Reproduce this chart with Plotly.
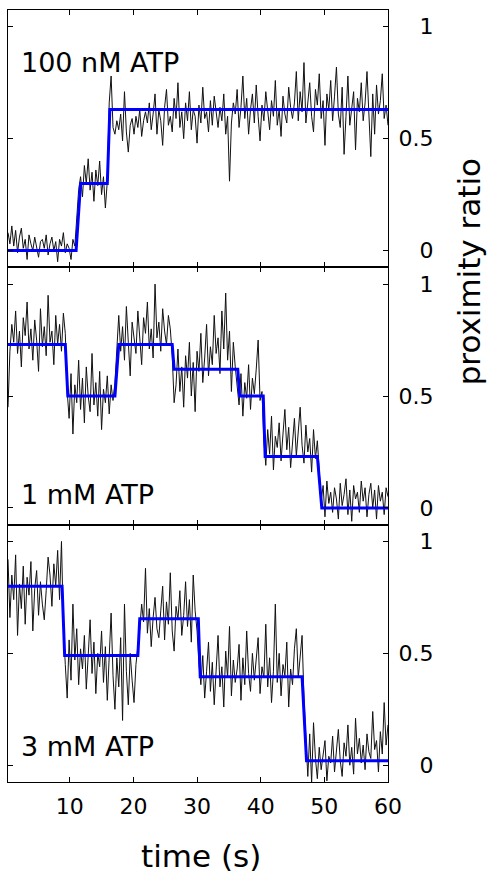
import numpy as np
import plotly.graph_objects as go

# Single-molecule proximity-ratio traces, one frame every 0.3 s
frame_interval = 0.3

trace_100nM = [
    0.08, 0.03, 0.11, 0.02, 0.09, -0.01, 0.06, 0.10, 0.01, 0.05,
    -0.04, 0.07, 0.03, 0.00, 0.06, 0.02, -0.03, 0.04, 0.05, 0.01,
    0.07, -0.02, 0.03, 0.06, 0.00, 0.04, -0.05, 0.05, 0.02, 0.08,
    -0.01, 0.03, 0.01, -0.04, 0.05, 0.02, 0.14, 0.27, 0.33, 0.24,
    0.38, 0.30, 0.41, 0.27, 0.35, 0.22, 0.36, 0.29, 0.40, 0.25,
    0.33, 0.19, 0.31, 0.66, 0.78, 0.55, 0.52, 0.58, 0.54, 0.61,
    0.49, 0.71, 0.53, 0.44, 0.56, 0.59, 0.52, 0.60, 0.55, 0.63,
    0.51, 0.58, 0.62, 0.57, 0.66, 0.54, 0.61, 0.70, 0.52, 0.63,
    0.58, 0.47, 0.64, 0.72, 0.56, 0.60, 0.53, 0.68, 0.59, 0.75,
    0.55, 0.62, 0.50, 0.66, 0.58, 0.71, 0.54, 0.63, 0.60, 0.48,
    0.65, 0.57, 0.73, 0.59, 0.62, 0.53, 0.67, 0.56, 0.69, 0.61,
    0.55, 0.64, 0.58, 0.70, 0.52, 0.60, 0.31, 0.57, 0.66, 0.61,
    0.72, 0.55, 0.64, 0.78, 0.59, 0.68, 0.52, 0.63, 0.70, 0.57,
    0.74, 0.60, 0.49, 0.65, 0.58, 0.71, 0.62, 0.54, 0.67, 0.60,
    0.76, 0.56, 0.63, 0.51, 0.69, 0.61, 0.57, 0.73, 0.64, 0.59,
    0.66, 0.80, 0.58, 0.71, 0.62, 0.84, 0.57, 0.68, 0.75, 0.60,
    0.53, 0.72, 0.65, 0.79, 0.59, 0.67, 0.47, 0.70, 0.63, 0.76,
    0.58, 0.69, 0.82, 0.61, 0.55, 0.73, 0.43, 0.60, 0.78, 0.56,
    0.64, 0.71, 0.45, 0.68, 0.62, 0.75, 0.58, 0.66, 0.80, 0.57,
    0.42, 0.70, 0.52, 0.74, 0.61, 0.67, 0.79, 0.59, 0.65, 0.56,
]

trace_1mM = [
    0.45, 0.70, 0.82, 0.74, 0.88, 0.69, 0.79, 0.63, 0.85, 0.77,
    0.92, 0.71, 0.80, 0.66, 0.84, 0.75, 0.61, 0.89, 0.72, 0.81,
    0.68, 0.95, 0.74, 0.79, 0.64, 0.86, 0.73, 0.82, 0.70, 0.87,
    0.78, 0.52, 0.40, 0.60, 0.33, 0.55, 0.47, 0.66, 0.44, 0.58,
    0.38, 0.63, 0.50, 0.43, 0.69, 0.46, 0.56, 0.41, 0.61, 0.35,
    0.53, 0.47, 0.59, 0.42, 0.55, 0.48, 0.56, 0.72, 0.86, 0.70,
    0.81, 0.66, 0.90, 0.74, 0.59, 0.83, 0.77, 0.69, 0.88, 0.75,
    0.64, 0.85, 0.78, 0.92, 0.71, 0.80, 0.67, 1.00, 0.76, 0.83,
    0.70, 0.89, 0.79, 0.73, 0.86, 0.80, 0.68, 0.47, 0.55, 0.71,
    0.52, 0.63, 0.45, 0.68, 0.58, 0.74, 0.50, 0.65, 0.43, 0.70,
    0.61, 0.78, 0.56, 0.67, 0.82, 0.59, 0.72, 0.64, 0.86, 0.69,
    0.76, 0.60, 0.88, 0.71, 0.96, 0.66, 0.79, 0.52, 0.74, 0.63,
    0.54, 0.46, 0.60, 0.41, 0.56, 0.49, 0.64, 0.44, 0.58, 0.51,
    0.62, 0.75, 0.48, 0.52, 0.30, 0.19, 0.35, 0.24, 0.41, 0.17,
    0.32, 0.27, 0.38, 0.21, 0.33, 0.44, 0.26, 0.36, 0.18, 0.29,
    0.40, 0.23, 0.34, 0.45, 0.28, 0.20, 0.37, 0.25, 0.31, 0.16,
    0.35, 0.22, 0.30, 0.14, 0.03, 0.10, -0.04, 0.12, 0.02, 0.07,
    -0.02, 0.09, 0.04, -0.05, 0.11, 0.01, 0.06, 0.13, -0.03, 0.08,
    -0.06, 0.10, 0.04, 0.07, -0.02, 0.12, 0.03, 0.09, -0.04, 0.06,
    0.11, 0.00, 0.08, -0.05, 0.10, 0.03, 0.07, -0.03, 0.09, 0.05,
]

trace_3mM = [
    0.92, 0.66, 0.85, 0.74, 0.94, 0.58, 0.81, 0.70, 0.89, 0.63,
    0.84, 0.76, 0.91, 0.60, 0.79, 0.87, 0.67, 0.82, 0.72, 0.65,
    0.78, 0.93, 0.85, 0.71, 0.90, 0.80, 0.96, 0.74, 1.00, 0.62,
    0.45, 0.30, 0.56, 0.38, 0.72, 0.47, 0.61, 0.36, 0.52, 0.43,
    0.58, 0.34, 0.49, 0.65, 0.41, 0.55, 0.32, 0.50, 0.44, 0.60,
    0.37, 0.53, 0.29, 0.46, 0.68, 0.40, 0.25, 0.48, 0.35, 0.57,
    0.20, 0.72, 0.42, 0.27, 0.50, 0.38, 0.28, 0.45, 0.52, 0.61,
    0.72, 0.64, 0.88, 0.59, 0.70, 0.53, 0.66, 0.75, 0.61, 0.57,
    0.69, 0.80, 0.56, 0.73, 0.63, 0.86, 0.60, 0.51, 0.71, 0.65,
    0.78, 0.58, 0.67, 0.82, 0.62, 0.74, 0.55, 0.85, 0.69, 0.60,
    0.45, 0.36, 0.49, 0.30, 0.42, 0.55, 0.33, 0.46, 0.27, 0.40,
    0.58, 0.35, 0.44, 0.26, 0.51, 0.39, 0.62, 0.31, 0.47, 0.37,
    0.43, 0.54, 0.29, 0.48, 0.36, 0.60, 0.41, 0.33, 0.50, 0.38,
    0.46, 0.57, 0.32, 0.44, 0.39, 0.63, 0.35, 0.48, 0.28, 0.42,
    0.72, 0.37, 0.50, 0.31, 0.45, 0.40, 0.55, 0.26, 0.43, 0.36,
    0.52, 0.61, 0.39, 0.47, 0.58, 0.30, 0.12, -0.05, 0.14, -0.08,
    0.19, 0.03, -0.06, 0.08, -0.02, 0.05, 0.11, -0.07, 0.04, 0.01,
    0.13, -0.03, 0.07, 0.16, 0.02, -0.05, 0.10, 0.04, 0.18, 0.00,
    0.08, -0.04, 0.21, 0.05, 0.12, 0.01, 0.09, -0.02, 0.14, 0.06,
    0.03, 0.24, 0.07, 0.11, -0.03, 0.15, 0.05, 0.28, 0.09, 0.18,
]

# Step-fit dwell segments: start time, end time, fitted level
fit_100nM_start = [0.3, 11.7, 16.3]
fit_100nM_end = [11.0, 15.9, 60.0]
fit_100nM_level = [0.0, 0.30, 0.63]

fit_1mM_start = [0.3, 9.7, 17.7, 26.4, 36.7, 40.7, 49.6]
fit_1mM_end = [9.3, 17.1, 26.1, 36.4, 40.4, 48.9, 60.0]
fit_1mM_level = [0.73, 0.50, 0.73, 0.62, 0.50, 0.23, 0.0]

fit_3mM_start = [0.3, 9.2, 21.0, 30.5, 47.2]
fit_3mM_end = [8.8, 20.7, 30.2, 46.5, 60.0]
fit_3mM_level = [0.80, 0.49, 0.655, 0.395, 0.02]

panel_labels = ["100 nM ATP", "1 mM ATP", "3 mM ATP"]
x_ticks = [10, 20, 30, 40, 50, 60]
y_ticks = [0, 0.5, 1]
# figure/punctuation spaces keep the right-side labels flush on their right edge
y_ticktext = ["\u2007\u20080", "0.5", "\u2007\u20081"]

FONT = "DejaVu Sans"

panels = [
    (trace_100nM, fit_100nM_start, fit_100nM_end, fit_100nM_level),
    (trace_1mM, fit_1mM_start, fit_1mM_end, fit_1mM_level),
    (trace_3mM, fit_3mM_start, fit_3mM_end, fit_3mM_level),
]

fig = go.Figure()
domains = [[2 / 3, 1.0], [1 / 3, 2 / 3], [0.0, 1 / 3]]

for k, (trace, f_start, f_end, f_level) in enumerate(panels):
    suffix = "" if k == 0 else str(k + 1)
    t = frame_interval * np.arange(1, len(trace) + 1)
    fig.add_trace(go.Scatter(
        x=t, y=trace, mode="lines",
        line=dict(color="#111111", width=1),
        xaxis="x" + suffix, yaxis="y" + suffix, hoverinfo="skip",
    ))
    fx, fy = [], []
    for s, e, lv in zip(f_start, f_end, f_level):
        fx += [s, e]
        fy += [lv, lv]
    fig.add_trace(go.Scatter(
        x=fx, y=fy, mode="lines",
        line=dict(color="#0000ff", width=3),
        xaxis="x" + suffix, yaxis="y" + suffix, hoverinfo="skip",
    ))

    fig.update_layout(**{
        "xaxis" + suffix: dict(
            domain=[0, 1], anchor="y" + suffix, range=[0.3, 60],
            tickvals=x_ticks, ticks="inside", ticklen=5, tickwidth=1,
            tickcolor="#000", showline=True, linecolor="#000", linewidth=1.2,
            mirror="ticks", showgrid=False, zeroline=False,
            showticklabels=(k == 2), ticklabelstandoff=4,
            tickfont=dict(family=FONT, size=22, color="#000"),
        ),
        "yaxis" + suffix: dict(
            domain=domains[k], anchor="x" + suffix, side="right",
            range=[-0.075, 1.075], tickvals=y_ticks, ticktext=y_ticktext,
            ticks="inside", ticklen=5, tickwidth=1, tickcolor="#000",
            showline=True, linecolor="#000", linewidth=1.2, mirror="ticks",
            showgrid=False, zeroline=False, ticklabelstandoff=5,
            tickfont=dict(family=FONT, size=22, color="#000"),
        ),
    })

label_y = [0.9317, 0.373, 0.0466]
annotations = [
    dict(text=txt, xref="paper", yref="paper", x=0.028, y=yy,
         xanchor="left", yanchor="middle", showarrow=False,
         font=dict(family=FONT, size=27, color="#000"))
    for txt, yy in zip(panel_labels, label_y)
]
annotations.append(dict(
    text="time (s)", xref="paper", yref="paper", x=0.508, y=-0.0955,
    xanchor="center", yanchor="middle", showarrow=False,
    font=dict(family=FONT, size=31, color="#000"),
))
annotations.append(dict(
    text="proximity ratio", xref="paper", yref="paper", x=1.214, y=0.6606,
    xanchor="center", yanchor="middle", textangle=-90, showarrow=False,
    font=dict(family=FONT, size=31, color="#000"),
))

fig.update_layout(
    width=489, height=875,
    margin=dict(l=8, r=101, t=10, b=93),
    paper_bgcolor="white", plot_bgcolor="white",
    showlegend=False, annotations=annotations,
)

fig.write_html("out.html")
